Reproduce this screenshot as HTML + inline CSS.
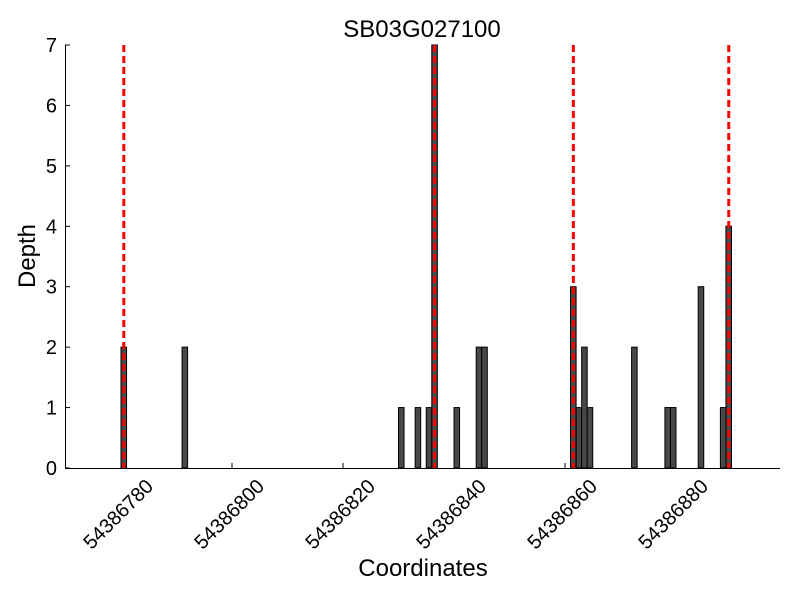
<!DOCTYPE html>
<html><head><meta charset="utf-8"><style>body{margin:0;background:#fff}svg{display:block}</style></head><body>
<svg width="800" height="600" xmlns="http://www.w3.org/2000/svg" font-family="Liberation Sans, sans-serif">
<rect width="800" height="600" fill="#fff"/>
<g id="bars" fill="#484848" stroke="#000" stroke-width="1"></g>
<g stroke="#000" stroke-width="1">
<line x1="65.5" y1="45" x2="65.5" y2="468.5"/>
<line x1="65" y1="468.5" x2="780" y2="468.5"/>
</g>
<g id="ticks" stroke="#000" stroke-width="1"></g>
<g id="red" stroke="#f00" stroke-width="3" stroke-dasharray="7,4"></g>
<g id="labels" font-size="20" fill="#000"></g>
<text x="422" y="37" font-size="24" text-anchor="middle">SB03G027100</text>
<text x="423" y="576" font-size="24" text-anchor="middle">Coordinates</text>
<text transform="translate(35,256) rotate(-90)" font-size="24" text-anchor="middle">Depth</text>
</svg>
<script>
var NS="http://www.w3.org/2000/svg";
function X(v){return 121+(v-780)*5.55;}
function Y(d){return 468-d*60.43;}
function el(p,t,a,txt){var e=document.createElementNS(NS,t);for(var k in a)e.setAttribute(k,a[k]);if(txt!=null)e.textContent=txt;document.getElementById(p).appendChild(e);}
var data=[[780,2],[791,2],[830,1],[833,1],[835,1],[836,7],[840,1],[844,2],[845,2],[861,3],[862,1],[863,2],[864,1],[872,2],[878,1],[879,1],[884,3],[888,1],[889,4]];
data.forEach(function(b){el("bars","rect",{x:X(b[0]),y:Y(b[1]),width:5.55,height:468-Y(b[1])});});
[780,836,861,889].forEach(function(v){var x=X(v)+2.8;el("red","line",{x1:x,y1:45,x2:x,y2:468});});
for(var i=0;i<=7;i++){var y=Y(i);el("ticks","line",{x1:65,y1:y,x2:70,y2:y});el("labels","text",{x:57,y:y+7,"text-anchor":"end"},String(i));}
[780,800,820,840,860,880].forEach(function(v){var x=X(v);el("ticks","line",{x1:x,y1:468,x2:x,y2:463});el("labels","text",{x:0,y:7,"text-anchor":"middle",transform:"translate("+(x-3)+",514) rotate(-45)"},"54386"+v);});
</script>
</body></html>
